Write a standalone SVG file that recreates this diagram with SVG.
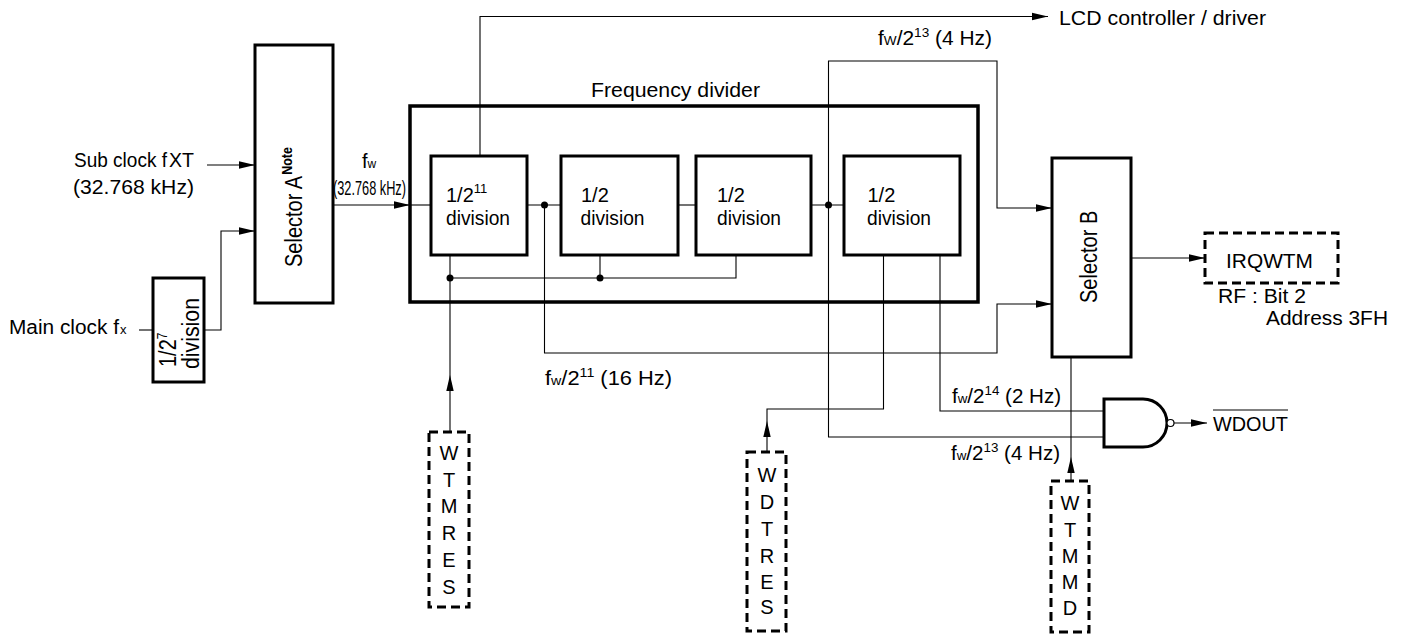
<svg xmlns="http://www.w3.org/2000/svg" width="1403" height="634" viewBox="0 0 1403 634">
<defs>
<marker id="arr" markerUnits="userSpaceOnUse" markerWidth="17" markerHeight="9" refX="16" refY="4.5" orient="auto"><path d="M0,0.8 L16,4.5 L0,8.2 z" fill="#000"/></marker>
<style>
.t{font-family:"Liberation Sans",Arial,sans-serif;font-size:20px;fill:#000}
.s{font-size:13px}
.c{text-anchor:middle}
.box{fill:#fff;stroke:#000;stroke-width:3}
.frame{fill:none;stroke:#000;stroke-width:3.5}
.dash{fill:#fff;stroke:#000;stroke-width:3;stroke-dasharray:9 5}
.w{fill:none;stroke:#000;stroke-width:1.1}
.a{marker-end:url(#arr)}
.dot{fill:#000}
</style>
</defs>
<rect width="1403" height="634" fill="#fff"/>

<g id="connectors">
<polyline class="w a" points="207,165 255,165"/>
<polyline class="w" points="139,330 153,330"/>
<polyline class="w a" points="204,330 221,330 221,231 255,231"/>
<polyline class="w a" points="333,205 410,205"/>
<polyline class="w" points="410,205 431,205"/>
<polyline class="w" points="527,205 561,205"/>
<polyline class="w" points="677,205 696,205"/>
<polyline class="w" points="811,205 844,205"/>
<polyline class="w a" points="480,156 480,16.5 1048,16.5"/>
<polyline class="w a" points="828.5,205 828.5,61 997,61 997,208 1052,208"/>
<polyline class="w" points="828.5,205 828.5,437 1104,437"/>
<polyline class="w a" points="544.5,205 544.5,353 997,353 997,304 1052,304"/>
<polyline class="w" points="450,255 450,375"/>
<polyline class="w a" points="450,432 450,375"/>
<polyline class="w" points="600,255 600,278"/>
<polyline class="w" points="450,278 736,278 736,255"/>
<polyline class="w" points="883.5,255 883.5,409 767,409 767,421"/>
<polyline class="w a" points="767,452 767,421"/>
<polyline class="w" points="940,255 940,411 1104,411"/>
<polyline class="w" points="1071,357 1071,457"/>
<polyline class="w a" points="1071,481 1071,457"/>
<polyline class="w a" points="1131,258 1205,258"/>
<polyline class="w a" points="1174,423 1207,423"/>
<circle class="dot" cx="544.5" cy="205" r="3.5"/>
<circle class="dot" cx="828.5" cy="205" r="3.5"/>
<circle class="dot" cx="450" cy="278" r="3.5"/>
<circle class="dot" cx="600" cy="278" r="3.5"/>
</g>

<g id="inputs">
<text class="t" x="74" y="167" textLength="93" lengthAdjust="spacingAndGlyphs">Sub clock f</text>
<text class="t" x="169" y="167" font-size="12" textLength="25" lengthAdjust="spacingAndGlyphs">XT</text>
<text class="t" x="73" y="194" textLength="121" lengthAdjust="spacingAndGlyphs">(32.768 kHz)</text>
<text class="t" x="9" y="334" textLength="110" lengthAdjust="spacingAndGlyphs">Main clock f</text>
<text class="t s" x="120" y="334">x</text>
</g>

<g id="div7">
<rect class="box" x="153" y="278" width="51" height="104"/>
<text class="t" font-size="19.5" transform="translate(176,367) scale(1.15,1) rotate(-90)">1/2<tspan font-size="12" dy="-8">7</tspan></text>
<text class="t" font-size="19.5" transform="translate(199,369) scale(1.15,1) rotate(-90)" textLength="71" lengthAdjust="spacingAndGlyphs">division</text>
</g>

<g id="selectorA">
<rect class="box" x="255" y="45" width="78" height="258"/>
<text class="t" font-size="20.5" transform="translate(302,267) scale(1.15,1) rotate(-90)">Selector A<tspan font-size="12.5" font-weight="bold" dy="-9" dx="1">Note</tspan></text>
</g>

<g id="fw-label">
<text class="t" x="362" y="168" font-size="18">f<tspan font-size="12">w</tspan></text>
<text class="t" x="333" y="195" font-size="13" textLength="73" lengthAdjust="spacingAndGlyphs">(32.768 kHz)</text>
</g>

<g id="freqdivider">
<rect class="frame" x="410" y="106" width="568" height="196"/>
<text class="t" x="591" y="97" textLength="169" lengthAdjust="spacingAndGlyphs">Frequency divider</text>
</g>

<g id="div11">
<rect class="box" x="431" y="156" width="96" height="99"/>
<text class="t" x="446" y="202">1/2<tspan font-size="13" dy="-9">11</tspan></text>
<text class="t" x="446" y="225" textLength="64" lengthAdjust="spacingAndGlyphs">division</text>
</g>
<g id="div2a">
<rect class="box" x="561" y="156" width="117" height="99"/>
<text class="t" x="581" y="202">1/2</text>
<text class="t" x="580.5" y="225" textLength="64" lengthAdjust="spacingAndGlyphs">division</text>
</g>
<g id="div2b">
<rect class="box" x="696" y="156" width="115" height="99"/>
<text class="t" x="717" y="202">1/2</text>
<text class="t" x="717" y="225" textLength="64" lengthAdjust="spacingAndGlyphs">division</text>
</g>
<g id="div2c">
<rect class="box" x="844" y="156" width="116" height="99"/>
<text class="t" x="867.5" y="202">1/2</text>
<text class="t" x="867" y="225" textLength="64" lengthAdjust="spacingAndGlyphs">division</text>
</g>

<g id="lcd">
<text class="t" x="1059" y="25" textLength="207" lengthAdjust="spacingAndGlyphs">LCD controller / driver</text>
</g>

<g id="labels">
<text class="t" x="878" y="45" textLength="114" lengthAdjust="spacingAndGlyphs">f<tspan font-size="13">W</tspan>/2<tspan font-size="13" dy="-8">13</tspan><tspan dy="8"> (4 Hz)</tspan></text>
<text class="t" x="545" y="385" textLength="127" lengthAdjust="spacingAndGlyphs">f<tspan font-size="13">w</tspan>/2<tspan font-size="13" dy="-8">11</tspan><tspan dy="8"> (16 Hz)</tspan></text>
<text class="t" x="952" y="403" textLength="109" lengthAdjust="spacingAndGlyphs">f<tspan font-size="13">w</tspan>/2<tspan font-size="13" dy="-8">14</tspan><tspan dy="8"> (2 Hz)</tspan></text>
<text class="t" x="951" y="460" textLength="109" lengthAdjust="spacingAndGlyphs">f<tspan font-size="13">w</tspan>/2<tspan font-size="13" dy="-8">13</tspan><tspan dy="8"> (4 Hz)</tspan></text>
</g>

<g id="selectorB">
<rect class="box" x="1052" y="158" width="79" height="199"/>
<text class="t" font-size="20.5" transform="translate(1097,303) scale(1.15,1) rotate(-90)">Selector B</text>
</g>

<g id="irqwtm">
<rect class="dash" x="1205" y="233" width="133" height="50"/>
<text class="t" x="1226" y="268" textLength="87" lengthAdjust="spacingAndGlyphs">IRQWTM</text>
<text class="t" x="1218" y="303" textLength="88" lengthAdjust="spacingAndGlyphs">RF : Bit 2</text>
<text class="t" x="1266" y="325" textLength="122" lengthAdjust="spacingAndGlyphs">Address 3FH</text>
</g>

<g id="andgate">
<path d="M1104,399 L1143,399 A24,24 0 0 1 1143,447 L1104,447 Z" fill="#fff" stroke="#000" stroke-width="3"/>
<circle cx="1170.5" cy="423" r="3.5" fill="#fff" stroke="#000" stroke-width="1.2"/>
</g>

<g id="wdout">
<text class="t" x="1213" y="431" textLength="75" lengthAdjust="spacingAndGlyphs">WDOUT</text>
<line x1="1213" y1="410" x2="1288" y2="410" stroke="#000" stroke-width="1.2"/>
</g>

<g id="wtmres">
<rect class="dash" x="429" y="432" width="40" height="175"/>
<text class="t c" x="449" y="460">W</text>
<text class="t c" x="449" y="487">T</text>
<text class="t c" x="449" y="513">M</text>
<text class="t c" x="449" y="540">R</text>
<text class="t c" x="449" y="567">E</text>
<text class="t c" x="449" y="594">S</text>
</g>

<g id="wdtres">
<rect class="dash" x="747" y="452" width="39" height="179"/>
<text class="t c" x="767" y="482">W</text>
<text class="t c" x="767" y="509">D</text>
<text class="t c" x="767" y="536">T</text>
<text class="t c" x="767" y="563">R</text>
<text class="t c" x="767" y="589">E</text>
<text class="t c" x="767" y="614">S</text>
</g>

<g id="wtmmd">
<rect class="dash" x="1051" y="481" width="38" height="151"/>
<text class="t c" x="1070" y="510">W</text>
<text class="t c" x="1070" y="537">T</text>
<text class="t c" x="1070" y="563">M</text>
<text class="t c" x="1070" y="589">M</text>
<text class="t c" x="1070" y="615">D</text>
</g>
</svg>
